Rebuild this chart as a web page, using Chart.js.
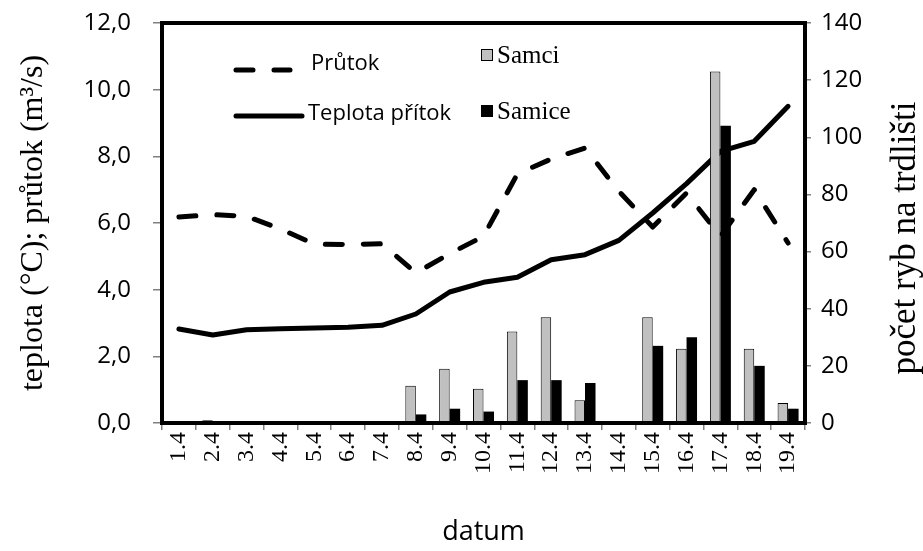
<!DOCTYPE html>
<html>
<head>
<meta charset="utf-8">
<script src="https://cdn.jsdelivr.net/npm/chart.js@4.4.0/dist/chart.umd.min.js"></script>
<style>
html, body { margin: 0; padding: 0; background: #fff; }
</style>
</head>
<body>
<canvas id="c" width="923" height="551"></canvas>
<script>
// data
const labels = ['1.4','2.4','3.4','4.4','5.4','6.4','7.4','8.4','9.4','10.4','11.4','12.4','13.4','14.4','15.4','16.4','17.4','18.4','19.4'];
const teplota = [2.82, 2.64, 2.80, 2.83, 2.85, 2.87, 2.93, 3.27, 3.93, 4.22, 4.37, 4.90, 5.05, 5.48, 6.30, 7.18, 8.15, 8.45, 9.50];
const prutok  = [6.18, 6.25, 6.20, 5.82, 5.37, 5.35, 5.38, 4.50, 5.08, 5.60, 7.47, 7.92, 8.25, 6.95, 5.88, 6.90, 5.60, 7.00, 5.40];
const samci   = [0, 1, 0, 0, 0, 0, 0, 13, 19, 12, 32, 37, 8, 0, 37, 26, 123, 26, 7];
const samice  = [0, 0, 0, 0, 0, 0, 0, 3, 5, 4, 15, 15, 14, 0, 27, 30, 104, 20, 5];
const leftTicks = [0, 2, 4, 6, 8, 10, 12];
const rightTicks = [0, 20, 40, 60, 80, 100, 120, 140];

const leftTitle = 'teplota (°C); průtok (m³/s)';
const rightTitle = 'počet ryb na trdlišti';
const dash = [17, 21];

// frame, right axis title (reads bottom to top) and the legend inside the plot
const extras = {
    id: 'extras',
    afterDraw(chart) {
        const ctx = chart.ctx;
        const a = chart.chartArea;
        ctx.save();
        ctx.strokeStyle = '#000';
        ctx.lineWidth = 4;
        ctx.strokeRect(a.left, a.top, a.right - a.left, a.bottom - a.top);

        ctx.fillStyle = '#000';
        ctx.save();
        ctx.translate(906, 238);
        ctx.rotate(-Math.PI / 2);
        ctx.font = '35px "Liberation Serif"';
        ctx.textAlign = 'center';
        ctx.textBaseline = 'middle';
        ctx.fillText(rightTitle, 0, 0);
        ctx.restore();

        const ds = chart.data.datasets;
        ctx.lineCap = 'round';
        ctx.lineWidth = 5;
        ctx.setLineDash(dash);
        ctx.beginPath(); ctx.moveTo(236, 70); ctx.lineTo(290, 70); ctx.stroke();
        ctx.setLineDash([]);
        ctx.beginPath(); ctx.moveTo(236, 116); ctx.lineTo(302, 116); ctx.stroke();

        ctx.font = '22px "Open Sans"';
        ctx.textAlign = 'left';
        ctx.textBaseline = 'middle';
        ctx.fillText(ds[2].label, 311, 64);
        ctx.fillText(ds[3].label, 308, 114);

        ctx.lineWidth = 1;
        ctx.fillStyle = ds[0].backgroundColor;
        ctx.fillRect(481, 49, 11, 11);
        ctx.strokeRect(481.5, 49.5, 11, 11);
        ctx.fillStyle = ds[1].backgroundColor;
        ctx.fillRect(481, 105, 12, 12);

        ctx.fillStyle = '#000';
        ctx.font = '25px "Liberation Serif"';
        ctx.fillText(ds[0].label, 497, 56);
        ctx.fillText(ds[1].label, 497, 112);
        ctx.restore();
    }
};

const tickGrid = { display: true, drawOnChartArea: false, drawTicks: true, color: '#808080', lineWidth: 1.5 };

new Chart(document.getElementById('c'), {
    type: 'bar',
    data: {
        labels: labels,
        datasets: [
            { label: 'Samci', data: samci, yAxisID: 'y2', order: 1,
              backgroundColor: '#c0c0c0', borderColor: '#000', borderWidth: 1,
              categoryPercentage: 0.62, barPercentage: 1.0 },
            { label: 'Samice', data: samice, yAxisID: 'y2', order: 1,
              backgroundColor: '#000', borderWidth: 0,
              categoryPercentage: 0.62, barPercentage: 1.0 },
            { type: 'line', label: 'Průtok', data: prutok, yAxisID: 'y', order: 2,
              borderColor: '#000', borderWidth: 5, borderDash: dash, borderCapStyle: 'round',
              borderJoinStyle: 'round', pointRadius: 0, tension: 0, fill: false },
            { type: 'line', label: 'Teplota přítok', data: teplota, yAxisID: 'y', order: 2,
              borderColor: '#000', borderWidth: 5, borderCapStyle: 'round',
              borderJoinStyle: 'round', pointRadius: 0, tension: 0, fill: false }
        ]
    },
    options: {
        responsive: false,
        animation: false,
        layout: { padding: { top: 23, left: 0, right: 0, bottom: 0 } },
        plugins: { legend: { display: false }, tooltip: { enabled: false } },
        scales: {
            x: {
                offset: true,
                grid: Object.assign({ offset: true, tickLength: 7 }, tickGrid),
                border: { display: false },
                ticks: { color: '#000', font: { family: 'Liberation Serif', size: 24 },
                         minRotation: 90, maxRotation: 90, autoSkip: false, padding: 2 },
                title: { display: true, text: 'datum', color: '#000',
                         font: { family: 'Open Sans', size: 27 }, padding: { top: 0, bottom: 2 } },
                afterFit(s) { s.height = 128; s.paddingLeft = 0; s.paddingRight = 0; }
            },
            y: {
                position: 'left',
                min: 0, max: 12,
                grid: Object.assign({ tickLength: 9 }, tickGrid),
                border: { display: false },
                afterBuildTicks(s) { s.ticks = leftTicks.map(v => ({ value: v })); },
                ticks: { color: '#000', font: { family: 'Open Sans', size: 24 }, padding: 22,
                         callback: v => v.toFixed(1).replace('.', ',') },
                title: { display: true, text: leftTitle, color: '#000',
                         font: { family: 'Liberation Serif', size: 32 }, padding: 14 },
                afterFit(s) { s.width = 162; s.paddingTop = 0; s.paddingBottom = 0; }
            },
            y2: {
                position: 'right',
                min: 0, max: 140,
                grid: Object.assign({ tickLength: 6 }, tickGrid),
                border: { display: false },
                afterBuildTicks(s) { s.ticks = rightTicks.map(v => ({ value: v })); },
                ticks: { color: '#000', font: { family: 'Open Sans', size: 24 }, padding: 10 },
                afterFit(s) { s.width = 118; s.paddingTop = 0; s.paddingBottom = 0; }
            }
        }
    },
    plugins: [extras]
});
</script>
</body>
</html>
